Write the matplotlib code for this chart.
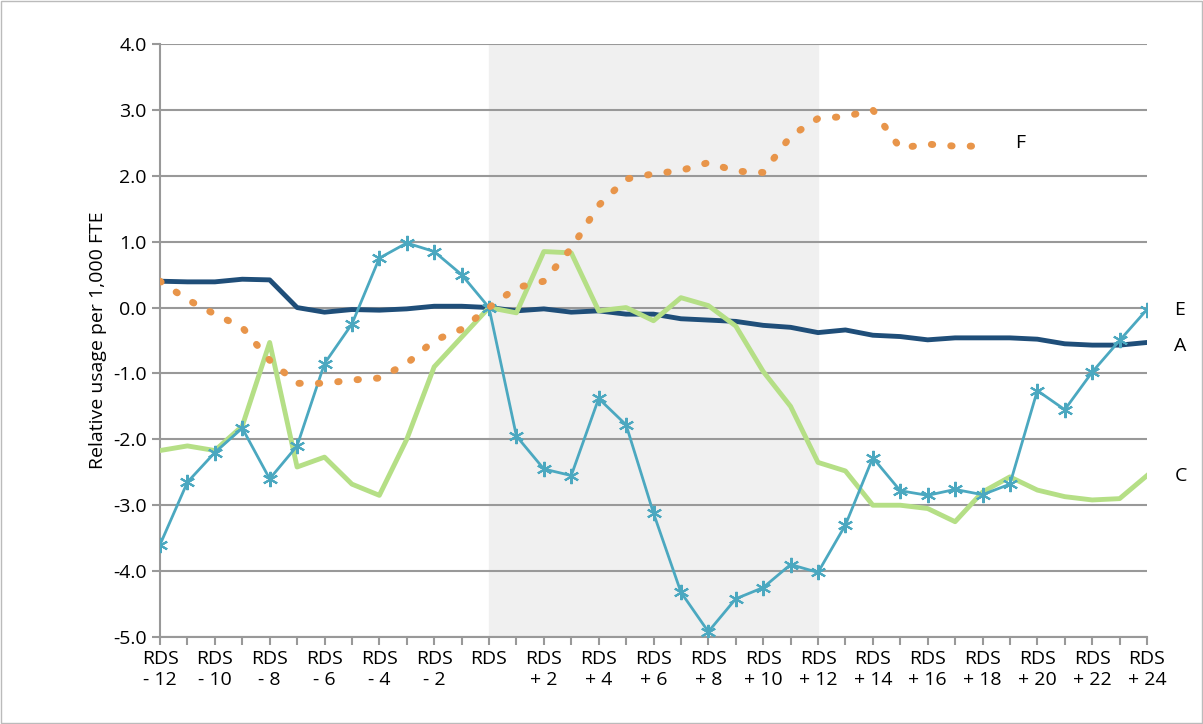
import numpy as np
import matplotlib.pyplot as plt

x = np.arange(-12, 25)
series_a = [0.40, 0.39, 0.39, 0.43, 0.42, 0.00, -0.07, -0.03, -0.04, -0.02, 0.02, 0.02, 0.00,
            -0.05, -0.02, -0.07, -0.05, -0.10, -0.10, -0.17, -0.19, -0.21, -0.27, -0.30, -0.38,
            -0.34, -0.42, -0.44, -0.49, -0.46, -0.46, -0.46, -0.48, -0.55, -0.57, -0.57, -0.53]
series_c = [-2.17, -2.10, -2.17, -1.80, -0.53, -2.42, -2.27, -2.68, -2.85, -2.00, -0.90, -0.45, 0.00,
            -0.08, 0.85, 0.83, -0.05, 0.00, -0.20, 0.15, 0.03, -0.28, -0.97, -1.50, -2.35,
            -2.48, -3.00, -3.00, -3.05, -3.25, -2.80, -2.57, -2.77, -2.87, -2.92, -2.90, -2.55]
series_e = [-3.60, -2.65, -2.20, -1.83, -2.60, -2.10, -0.85, -0.25, 0.75, 0.98, 0.85, 0.50, 0.00,
            -1.95, -2.45, -2.55, -1.38, -1.78, -3.12, -4.32, -4.92, -4.42, -4.25, -3.90, -4.02,
            -3.30, -2.28, -2.78, -2.85, -2.76, -2.84, -2.68, -1.26, -1.55, -0.98, -0.50, -0.03]
x_f = np.arange(-12, 19)
series_f = [0.40, 0.12, -0.10, -0.30, -0.80, -1.15, -1.15, -1.10, -1.07, -0.85, -0.50, -0.33, 0.00,
            0.30, 0.40, 0.90, 1.55, 1.95, 2.03, 2.08, 2.20, 2.07, 2.05, 2.60, 2.87, 2.90, 3.00,
            2.42, 2.48, 2.45, 2.45]

labels = []
for v in x:
    if v % 2:
        labels.append('')
    elif v == 0:
        labels.append('RDS')
    elif v < 0:
        labels.append(f'RDS\n- {-v}')
    else:
        labels.append(f'RDS\n+ {v}')

plt.rcParams['font.family'] = ['Open Sans', 'DejaVu Sans']

fig = plt.figure(figsize=(12.03, 7.24), dpi=100)
ax = fig.add_axes([160/1203, 1 - 637/724, 987/1203, 593/724])
fig.patches.append(plt.Rectangle((0.001, 0.001), 0.998, 0.998, transform=fig.transFigure,
                                 fill=False, edgecolor='#bbbbbb', lw=1))

ax.axvspan(0, 12, color='#f0f0f0', zorder=0)
for yv in np.arange(-5, 4.5, 1):
    ax.axhline(yv, color='#999999', lw=1.5, zorder=1)

ax.plot(x, series_a, color='#1f4e79', lw=3.5, zorder=3)
ax.plot(x, series_c, color='#b5df86', lw=3.5, zorder=3)
ax.plot(x, series_e, color='#4ba8c0', lw=2, marker=(6, 2, 0), ms=11, mew=1.5, zorder=4)
ax.plot(x_f, series_f, color='#e8954a', lw=5, ls=(0, (0.2, 2.6)), dash_capstyle='round', zorder=5)

for txt, xv, yv in [('F', 19.2, series_f[-1] + 0.05), ('E', 25, series_e[-1]),
                    ('A', 25, series_a[-1] - 0.05), ('C', 25, series_c[-1])]:
    ax.text(xv, yv, txt, fontsize=14, va='center', ha='left', clip_on=False)

ax.set_xlim(-12, 24)
ax.set_ylim(-5, 4)
ax.set_yticks(np.arange(-5, 4.5, 1))
ax.set_yticklabels([f'{v:.1f}' for v in np.arange(-5, 4.5, 1)], fontsize=14)
ax.set_xticks(x)
ax.set_xticklabels(labels, fontsize=14, linespacing=1.2)
ax.tick_params(axis='x', length=6, color='#999999', width=1.5)
ax.tick_params(axis='y', length=6, color='#999999', width=1.5)
ax.set_ylabel('Relative usage per 1,000 FTE', fontsize=14)
for s in ['top', 'right']:
    ax.spines[s].set_visible(False)
for s in ['left', 'bottom']:
    ax.spines[s].set_color('#999999')
    ax.spines[s].set_linewidth(1.5)

fig.savefig('out.png', dpi=100)
